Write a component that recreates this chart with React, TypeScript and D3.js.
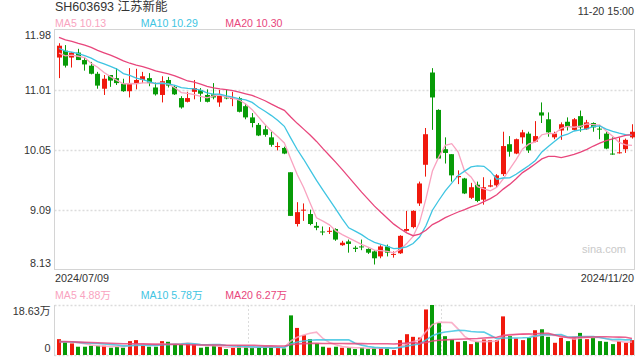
import React from 'react';
import * as d3 from 'd3';

// ---------- data ----------
const title = 'SH603693 江苏新能';
const timeLabel = '11-20 15:00';
const dateLabels = ['2024/07/09', '2024/11/20'];
const priceTicks = [11.98, 11.01, 10.05, 9.09, 8.13];
const volumeTicks = [18.63, 0];
const volumeTickLabels = ['18.63万', '0'];
const maNames = ['MA5', 'MA10', 'MA20'];
const maPeriods = [5, 10, 20];
const priceLegendValues = ['10.13', '10.29', '10.30'];
const volumeLegendValues = ['4.88万', '5.78万', '6.27万'];

const openP = [
  11.53, 11.64, 11.53, 11.61, 11.49, 11.40, 11.27, 11.03, 11.25, 11.20,
  11.11, 10.99, 11.12, 11.17, 11.20, 11.05, 10.93, 11.17, 11.06, 10.88,
  10.82, 10.98, 11.01, 10.93, 10.94, 10.81, 10.89, 10.87, 10.88, 10.75,
  10.57, 10.45, 10.38, 10.25, 10.10, 10.08, 9.69, 8.86, 9.08, 9.02,
  8.83, 8.74, 8.74, 8.78, 8.52, 8.58, 8.48, 8.50, 8.46, 8.42,
  8.34, 8.50, 8.37, 8.39, 8.75, 8.81, 9.19, 9.81, 11.29, 10.69,
  10.06, 9.98, 9.61, 9.59, 9.28, 9.49, 9.25, 9.46, 9.48, 9.66,
  10.14, 9.99, 10.25, 10.31, 10.18, 10.65, 10.54, 10.25, 10.36, 10.50,
  10.37, 10.59, 10.38, 10.48, 10.39, 10.31, 9.99, 10.00, 10.06, 10.25,
];
const highP = [
  11.76, 11.73, 11.62, 11.67, 11.54, 11.46, 11.30, 11.25, 11.25, 11.36,
  11.19, 11.36, 11.35, 11.30, 11.28, 11.13, 11.23, 11.22, 11.09, 10.91,
  10.98, 11.17, 11.04, 11.02, 11.12, 11.01, 11.02, 10.98, 10.90, 10.79,
  10.64, 10.48, 10.45, 10.34, 10.17, 10.10, 9.69, 9.21, 9.19, 9.09,
  8.89, 8.82, 8.81, 8.79, 8.59, 8.61, 8.51, 8.61, 8.47, 8.44,
  8.52, 8.53, 8.42, 8.68, 9.07, 9.08, 9.54, 10.40, 11.36, 10.70,
  10.25, 9.98, 9.72, 9.60, 9.52, 9.54, 9.61, 9.57, 9.66, 10.34,
  10.27, 10.23, 10.37, 10.34, 10.51, 10.81, 10.65, 10.34, 10.49, 10.57,
  10.56, 10.68, 10.53, 10.49, 10.45, 10.34, 10.25, 10.25, 10.23, 10.46,
];
const lowP = [
  11.20, 11.37, 11.37, 11.49, 11.32, 11.26, 11.03, 10.93, 11.06, 11.09,
  10.98, 10.89, 11.02, 11.12, 11.07, 10.92, 10.81, 11.05, 10.93, 10.71,
  10.81, 10.86, 10.82, 10.81, 10.86, 10.74, 10.86, 10.75, 10.65, 10.54,
  10.41, 10.27, 10.26, 10.10, 10.04, 9.98, 8.99, 8.82, 8.91, 8.84,
  8.76, 8.68, 8.70, 8.59, 8.51, 8.40, 8.41, 8.44, 8.38, 8.21,
  8.31, 8.34, 8.32, 8.38, 8.74, 8.79, 9.15, 9.62, 10.37, 9.91,
  9.83, 9.54, 9.50, 9.34, 9.26, 9.21, 9.17, 9.45, 9.45, 9.63,
  9.94, 9.98, 10.15, 10.00, 10.17, 10.48, 10.26, 10.22, 10.21, 10.36,
  10.36, 10.34, 10.37, 10.34, 10.22, 10.06, 9.97, 9.99, 10.00, 10.23,
];
const closeP = [
  11.72, 11.40, 11.61, 11.49, 11.42, 11.27, 11.08, 11.19, 11.16, 11.12,
  10.99, 11.11, 11.17, 11.23, 11.12, 10.94, 11.15, 11.08, 10.94, 10.73,
  10.88, 11.04, 10.95, 10.82, 10.89, 10.93, 10.88, 10.88, 10.66, 10.57,
  10.48, 10.28, 10.29, 10.13, 10.11, 9.99, 8.99, 9.05, 9.09, 8.86,
  8.80, 8.73, 8.75, 8.61, 8.56, 8.54, 8.46, 8.49, 8.40, 8.31,
  8.50, 8.40, 8.38, 8.67, 8.78, 9.07, 9.51, 10.30, 10.89, 9.91,
  10.00, 9.64, 9.63, 9.35, 9.45, 9.23, 9.45, 9.48, 9.64, 10.11,
  10.02, 10.22, 10.33, 10.04, 10.27, 10.60, 10.33, 10.31, 10.46, 10.42,
  10.54, 10.41, 10.49, 10.41, 10.38, 10.07, 9.98, 10.01, 10.21, 10.34,
];
// volume in 万 (10k shares)
const volume = [
  5.90, 4.67, 4.31, 3.08, 3.08, 3.44, 3.44, 3.44, 2.71, 3.08,
  2.71, 5.17, 5.54, 3.44, 3.08, 3.08, 5.17, 4.92, 3.94, 3.94,
  4.31, 3.94, 2.71, 3.08, 3.44, 3.08, 2.21, 2.71, 3.44, 3.08,
  2.71, 2.71, 3.08, 3.08, 2.71, 2.46, 14.76, 10.09, 7.38, 5.90,
  4.31, 3.08, 2.71, 3.08, 2.71, 2.71, 2.21, 2.71, 2.21, 2.71,
  2.71, 2.71, 1.85, 5.54, 7.75, 6.77, 6.52, 16.97, 18.63, 11.93,
  7.01, 5.78, 4.92, 5.17, 4.06, 4.92, 5.78, 5.54, 5.54, 14.39,
  7.01, 6.15, 5.54, 6.40, 9.23, 9.59, 6.77, 4.55, 6.40, 5.17,
  6.77, 8.24, 5.90, 6.40, 5.17, 4.92, 4.06, 5.17, 4.55, 5.54,
];
// closes / volumes of the 19 sessions before the window (only feed the moving averages)
const priorClose = [
  12.20, 12.10, 12.15, 12.00, 11.95, 12.05, 11.98, 11.92, 12.00, 11.95,
  11.85, 11.78, 11.72, 11.75, 11.68, 11.62, 11.55, 11.58, 11.535,
];
const priorVolume = [
  5.2, 4.8, 5.5, 4.6, 5.0, 4.4, 5.8, 4.7, 5.1, 4.5,
  4.9, 5.3, 4.6, 4.8, 5.0, 4.4, 5.2, 4.7, 4.9,
];

// ---------- styles ----------
const UP = '#f0190d';
const DOWN = '#079b07';
const MA_COLORS = ['#f9a3c0', '#3fc5e2', '#e8467c'];
const FONT = "'Liberation Sans', Arial, 'Noto Sans CJK SC', sans-serif";
const TEXT = '#333';
const BORDER = '#d4d4d4';
const GRID = '#dcdcdc';

function movingAverage(series: number[], prior: number[], n: number): number[] {
  const all = prior.concat(series);
  const off = prior.length;
  return series.map((_, i) => {
    const end = off + i;
    const slice = all.slice(Math.max(0, end - n + 1), end + 1);
    return d3.mean(slice) as number;
  });
}

export default function App() {
  const W = 640;
  const H = 360;
  const left = 54.5;
  const right = 634.5;
  const mainTop = 29.5;
  const mainBottom = 269.5;
  const volTop = 305;
  const volBottom = 355;

  const idx = d3.range(closeP.length);
  const x = d3.scalePoint<number>().domain(idx).range([59, 632]);
  const y = d3.scaleLinear().domain([8.13, 11.98]).range([mainBottom, mainTop]);
  const yv = d3.scaleLinear().domain([0, 18.63]).range([volBottom, volTop]);

  const priceMA = maPeriods.map((n) => movingAverage(closeP, priorClose, n));
  const volMA = maPeriods.map((n) => movingAverage(volume, priorVolume, n));

  const linePrice = d3.line<number>().x((_, i) => x(i) as number).y((d) => y(d));
  const lineVol = d3.line<number>().x((_, i) => x(i) as number).y((d) => yv(d));

  const legendX = [55, 140.7, 225.3];

  return (
    <svg
      width={W}
      height={H}
      viewBox={`0 0 ${W} ${H}`}
      style={{ position: 'absolute', left: 0, top: 0, background: '#fff' }}
      fontFamily={FONT}
    >
      <rect x={0} y={0} width={W} height={H} fill="#fff" />
      {/* header */}
      <text x={55} y={11} fontSize={12.5} fill={TEXT}>{title}</text>
      <text x={634} y={14.5} fontSize={10.7} fill={TEXT} textAnchor="end">{timeLabel}</text>
      {maNames.map((nm, k) => (
        <text key={nm} x={legendX[k]} y={27.2} fontSize={10.6} fill={MA_COLORS[k]}>
          {nm} {priceLegendValues[k]}
        </text>
      ))}

      {/* main grid */}
      {priceTicks.slice(1, -1).map((t) => (
        <line key={t} x1={left} x2={right} y1={Math.round(y(t)) + 0.5} y2={Math.round(y(t)) + 0.5}
          stroke={GRID} strokeWidth={1.5} strokeDasharray="2,2" />
      ))}
      {/* main border */}
      <rect x={left} y={mainTop} width={right - left} height={mainBottom - mainTop} fill="none" stroke={BORDER} strokeWidth={1} />
      {priceTicks.map((t, k) => {
        const yy = y(t);
        const base = k === 0 ? yy + 9.5 : k === priceTicks.length - 1 ? yy - 2.5 : yy + 4;
        return (
          <text key={t} x={51} y={base} fontSize={10.8} fill={TEXT} textAnchor="end">{t.toFixed(2)}</text>
        );
      })}

      {/* candles */}
      {idx.map((i) => {
        const o = openP[i], c = closeP[i], h = highP[i], l = lowP[i];
        const col = c >= o ? UP : DOWN;
        const cx = x(i) as number;
        const bl = Math.round(cx - 2.5);
        const top = y(Math.max(o, c));
        const bh = Math.max(1, y(Math.min(o, c)) - top);
        return (
          <g key={i}>
            <line x1={bl + 2.5} x2={bl + 2.5} y1={y(h)} y2={y(l)} stroke={col} strokeWidth={1} />
            <rect x={bl} y={top} width={5} height={bh} fill={col} />
          </g>
        );
      })}
      {/* price MAs */}
      {priceMA.map((s, k) => (
        <path key={k} d={linePrice(s) || ''} fill="none" stroke={MA_COLORS[k]} strokeWidth={1.3} />
      ))}

      {/* dates & watermark */}
      <text x={55} y={281.5} fontSize={10.8} fill={TEXT}>{dateLabels[0]}</text>
      <text x={634} y={281.5} fontSize={10.8} fill={TEXT} textAnchor="end">{dateLabels[1]}</text>
      <text x={582} y={253} fontSize={11} fill="#c9c9c9">sina.com</text>

      {/* volume legend */}
      {maNames.map((nm, k) => (
        <text key={nm} x={legendX[k]} y={299} fontSize={10.6} fill={MA_COLORS[k]}>
          {nm} {volumeLegendValues[k]}
        </text>
      ))}

      {/* volume panel frame */}
      <line x1={left} x2={right} y1={volTop + 0.5} y2={volTop + 0.5} stroke={GRID} strokeWidth={1.5} strokeDasharray="2,2" />
      <line x1={left} x2={right} y1={volBottom + 0.5} y2={volBottom + 0.5} stroke={GRID} strokeWidth={1.5} strokeDasharray="2,2" />
      {[1, 2].map((k) => {
        const vx = Math.round(left + ((right - left) * k) / 3) + 0.5;
        return <line key={k} x1={vx} x2={vx} y1={volTop} y2={volBottom} stroke={GRID} strokeWidth={1} strokeDasharray="2,2" />;
      })}
      <line x1={left} x2={left} y1={volTop} y2={volBottom + 1} stroke={BORDER} strokeWidth={1} />
      <line x1={right} x2={right} y1={volTop} y2={volBottom + 1} stroke={BORDER} strokeWidth={1} />
      {volumeTicks.map((t, k) => (
        <text key={k} x={50.5} y={k === 0 ? yv(t) + 10 : yv(t) - 3.3} fontSize={10.8} fill={TEXT} textAnchor="end">
          {volumeTickLabels[k]}
        </text>
      ))}

      {/* volume bars */}
      {idx.map((i) => {
        const col = closeP[i] >= openP[i] ? UP : DOWN;
        const cx = x(i) as number;
        const bl = Math.round(cx - 2);
        return <rect key={i} x={bl} y={yv(volume[i])} width={4} height={volBottom - yv(volume[i])} fill={col} />;
      })}
      {volMA.map((s, k) => (
        <path key={k} d={lineVol(s) || ''} fill="none" stroke={MA_COLORS[k]} strokeWidth={1.6} strokeOpacity={0.85} />
      ))}
    </svg>
  );
}
